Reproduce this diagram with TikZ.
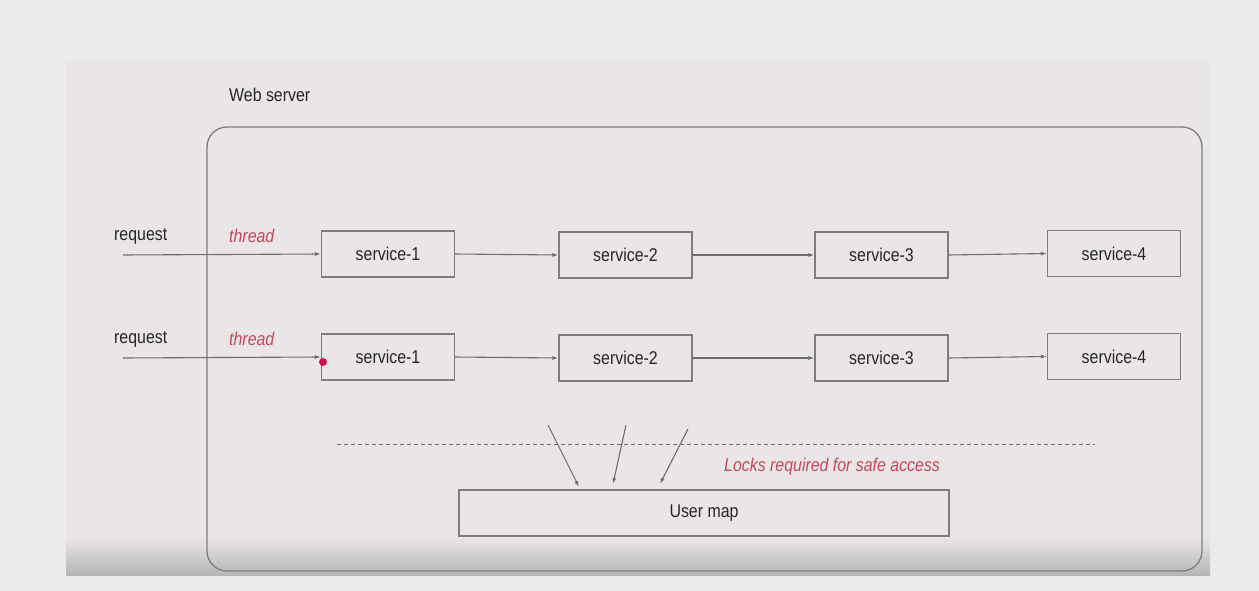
\documentclass[tikz,border=0pt]{standalone}
\usepackage{fontspec}
\setmainfont{Liberation Sans}[FakeStretch=0.86]
\newfontfamily\itfont{Liberation Sans}[FakeStretch=0.86,UprightFont=*-Italic]
\usetikzlibrary{arrows.meta,positioning}
\definecolor{outerbg}{RGB}{235,235,235}
\definecolor{slidebg}{RGB}{234,230,232}
\definecolor{shadowc}{RGB}{182,180,182}
\definecolor{linec}{RGB}{110,110,110}
\definecolor{boxc}{RGB}{125,125,125}
\definecolor{redtxt}{RGB}{200,70,90}
\definecolor{dotc}{RGB}{210,15,75}
\tikzset{
  svc/.style={draw=boxc, line width=1.2pt, minimum width=133pt, minimum height=46pt, inner sep=0pt, font=\fontsize{18.5}{20}\selectfont, text=black!85},
  conn/.style={draw=linec, line width=1.1pt, -{Latex[length=6pt,width=4pt]}},
  lbl/.style={font=\fontsize{18.5}{20}\selectfont, text=black!85, inner sep=0pt},
  redlbl/.style={font=\fontsize{18.5}{20}\selectfont\itfont, text=redtxt, inner sep=0pt}
}
\begin{document}
\begin{tikzpicture}[x=1pt,y=-1pt]
\useasboundingbox (0,0) rectangle (1259,591);
\fill[outerbg] (0,0) rectangle (1259,591);
\fill[slidebg] (66,60) rectangle (1210,575);
\shade[top color=slidebg, bottom color=shadowc] (66,538) rectangle (1210,575);
% web server frame
\draw[draw=boxc, line width=1.3pt, rounded corners=20pt] (207,127) rectangle (1202,571);
\node[lbl, anchor=west] (ws) at (229,95) {Web server};
% row 1
\node[svc] (a1) at (388,254) {service-1};
\node[svc] (a2) at (625.5,255) {service-2};
\node[svc] (a3) at (881.5,255) {service-3};
\node[svc] (a4) at (1114,253.5) {service-4};
% row 2
\node[svc] (b1) at (388,357) {service-1};
\node[svc] (b2) at (625.5,358) {service-2};
\node[svc] (b3) at (881.5,358) {service-3};
\node[svc] (b4) at (1114,356.5) {service-4};
% labels
\node[lbl, anchor=west] (r1) at (114,236) {request};
\node[lbl, anchor=west] (r2) at (114,339) {request};
\node[redlbl, anchor=west] (t1) at (229,236) {thread};
\node[redlbl, anchor=west] (t2) at (229,339) {thread};
% request arrows
\coordinate (s1) at (123,255);
\coordinate (s2) at (123,358);
\draw[conn] (s1) -- (a1.west);
\draw[conn] (s2) -- (b1.west);
\draw[conn] (a1.east) -- (a2.west);
\draw[conn] (a2.east) -- (a3.west);
\draw[conn] (a3.east) -- (a4.west);
\draw[conn] (b1.east) -- (b2.west);
\draw[conn] (b2.east) -- (b3.west);
\draw[conn] (b3.east) -- (b4.west);
\fill[dotc] (323,362) circle (4pt);
% dashed line
\coordinate (d1) at (337,444);
\coordinate (d2) at (1095,444);
\draw[draw=linec, line width=1pt, dash pattern=on 4pt off 3pt] (d1) -- (d2);
% user map
\node[svc, minimum width=490pt] (um) at (704,513) {User map};
\node[redlbl, anchor=west] (lk) at (724,467) {Locks required for safe access};
\coordinate (p1) at (548,425);
\coordinate (p2) at (626,425);
\coordinate (p3) at (688,429);
\coordinate (q1) at (579,487);
\coordinate (q2) at (613,484);
\coordinate (q3) at (660,484);
\draw[conn] (p1) -- (q1);
\draw[conn] (p2) -- (q2);
\draw[conn] (p3) -- (q3);
\end{tikzpicture}
\end{document}
